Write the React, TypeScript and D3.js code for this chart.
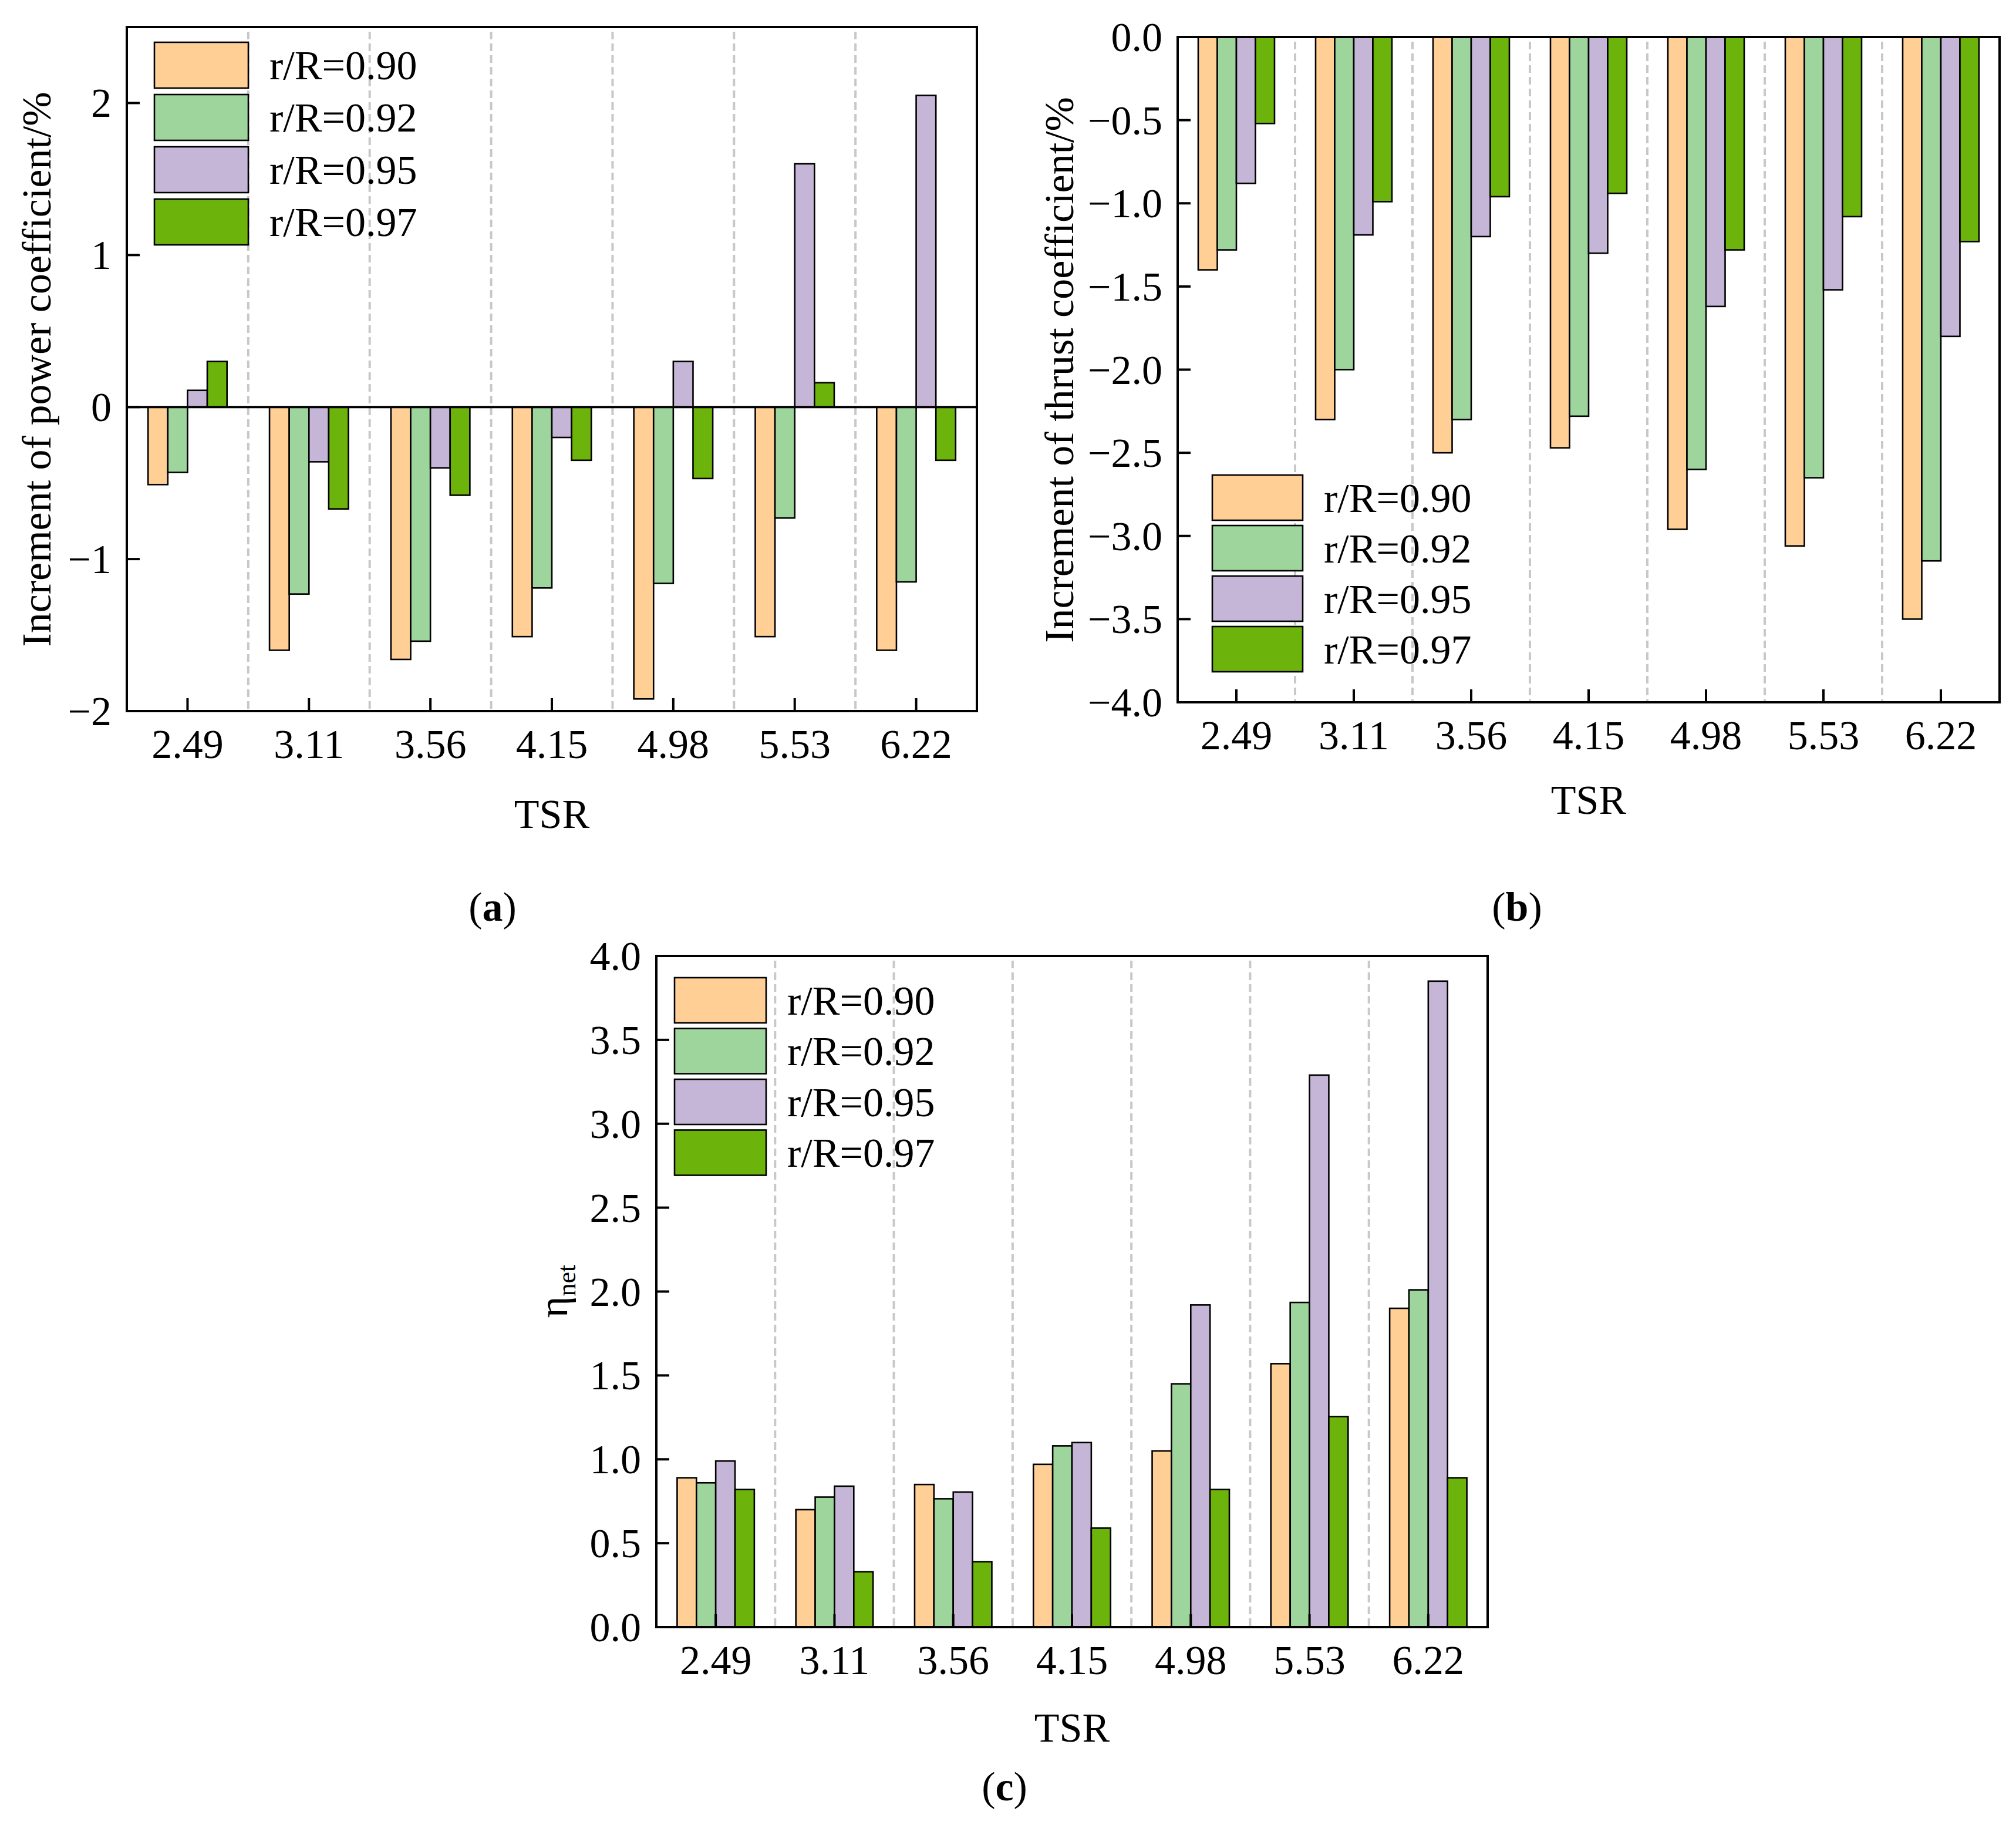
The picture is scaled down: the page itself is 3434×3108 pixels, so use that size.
import React from "react";
import * as d3 from "d3";

const tsr = ["2.49", "3.11", "3.56", "4.15", "4.98", "5.53", "6.22"];
const seriesNames = ["r/R=0.90", "r/R=0.92", "r/R=0.95", "r/R=0.97"];
const seriesColors = ["#ffcf96", "#9dd59d", "#c5b5d6", "#6cb30b"];

const power090 = [-0.51, -1.6, -1.66, -1.51, -1.92, -1.51, -1.6];
const power092 = [-0.43, -1.23, -1.54, -1.19, -1.16, -0.73, -1.15];
const power095 = [0.11, -0.36, -0.4, -0.2, 0.3, 1.6, 2.05];
const power097 = [0.3, -0.67, -0.58, -0.35, -0.47, 0.16, -0.35];

const thrust090 = [-1.4, -2.3, -2.5, -2.47, -2.96, -3.06, -3.5];
const thrust092 = [-1.28, -2.0, -2.3, -2.28, -2.6, -2.65, -3.15];
const thrust095 = [-0.88, -1.19, -1.2, -1.3, -1.62, -1.52, -1.8];
const thrust097 = [-0.52, -0.99, -0.96, -0.94, -1.28, -1.08, -1.23];

const eta090 = [0.89, 0.7, 0.85, 0.97, 1.05, 1.57, 1.9];
const eta092 = [0.86, 0.775, 0.765, 1.08, 1.45, 1.935, 2.01];
const eta095 = [0.99, 0.84, 0.805, 1.1, 1.92, 3.29, 3.85];
const eta097 = [0.82, 0.33, 0.39, 0.59, 0.82, 1.255, 0.89];

const powerTicks = [-2, -1, 0, 1, 2];
const thrustTicks = [-4, -3.5, -3, -2.5, -2, -1.5, -1, -0.5, 0];
const etaTicks = [0, 0.5, 1, 1.5, 2, 2.5, 3, 3.5, 4];

const FONT = "'Liberation Serif', 'Times New Roman', serif";
const FS = 70;

const fmtInt = (v: number) => (v < 0 ? "\u2212" + Math.abs(v) : String(v));
const fmt1 = (v: number) => (v < 0 ? "\u2212" + Math.abs(v).toFixed(1) : v.toFixed(1));

type PanelProps = {
  left: number; right: number; top: number; bottom: number;
  domain: [number, number];
  ticks: number[];
  fmt: (v: number) => string;
  series: number[][];
  base: number;
  zeroLine?: boolean;
  legend: { x: number; y: number; w: number; h: number; pitch: number };
  yTitle: React.ReactNode;
  tsrY: number;
};

function Panel(p: PanelProps) {
  const x = d3.scaleBand<string>().domain(tsr).range([p.left, p.right]).padding(0);
  const y = d3.scaleLinear().domain(p.domain).range([p.bottom, p.top]);
  const bw = x.bandwidth();
  const inner = d3.scaleBand<number>().domain([0, 1, 2, 3]).range([0, bw * 0.65]).padding(0);
  const off = (bw - bw * 0.65) / 2;
  return (
    <g>
      {tsr.slice(1).map((t, i) => (
        <line key={"sep" + i} x1={x(t)!} x2={x(t)!} y1={p.top + 8} y2={p.bottom}
          stroke="#c8c8c8" strokeWidth={4} strokeDasharray="13 7" />
      ))}
      {p.series.map((vals, si) =>
        vals.map((v, gi) => {
          const x0 = x(tsr[gi])! + off + inner(si)!;
          const ya = y(p.base), yb = y(v);
          return (
            <rect key={`b${si}-${gi}`} x={x0} width={inner.bandwidth()}
              y={Math.min(ya, yb)} height={Math.abs(yb - ya)}
              fill={seriesColors[si]} stroke="#000" strokeWidth={2.6} />
          );
        })
      )}
      {p.zeroLine && (
        <line x1={p.left} x2={p.right} y1={y(0)} y2={y(0)} stroke="#000" strokeWidth={4} />
      )}
      {/* y ticks */}
      {p.ticks.map((t) => (
        <g key={"yt" + t}>
          <line x1={p.left} x2={p.left + 22} y1={y(t)} y2={y(t)} stroke="#000" strokeWidth={4} />
          <text x={p.left - 26} y={y(t) + 24} textAnchor="end" fontFamily={FONT} fontSize={FS}>
            {p.fmt(t)}
          </text>
        </g>
      ))}
      {/* x ticks */}
      {tsr.map((t) => {
        const cx = x(t)! + bw / 2;
        return (
          <g key={"xt" + t}>
            <line x1={cx} x2={cx} y1={p.bottom} y2={p.bottom - 22} stroke="#000" strokeWidth={4} />
            <text x={cx} y={p.bottom + 80} textAnchor="middle" fontFamily={FONT} fontSize={FS}>
              {t}
            </text>
          </g>
        );
      })}
      <rect x={p.left} y={p.top} width={p.right - p.left} height={p.bottom - p.top}
        fill="none" stroke="#000" strokeWidth={4} />
      {/* legend */}
      {seriesNames.map((n, i) => {
        const by = p.legend.y + i * p.legend.pitch;
        return (
          <g key={"lg" + i}>
            <rect x={p.legend.x} y={by} width={p.legend.w} height={p.legend.h}
              fill={seriesColors[i]} stroke="#000" strokeWidth={2.6} />
            <text x={p.legend.x + p.legend.w + 36} y={by + p.legend.h / 2 + 24}
              fontFamily={FONT} fontSize={FS}>{n}</text>
          </g>
        );
      })}
      <text x={(p.left + p.right) / 2} y={p.tsrY} textAnchor="middle" fontFamily={FONT} fontSize={FS}>TSR</text>
      {p.yTitle}
    </g>
  );
}

export default function App() {
  return (
    <div style={{ position: "absolute", left: 0, top: 0 }}>
      <svg width={3434} height={3108} viewBox="0 0 3434 3108" style={{ display: "block", background: "#fff" }}>
        <rect x={0} y={0} width={3434} height={3108} fill="#fff" />
        <Panel left={216} right={1664} top={46} bottom={1211} domain={[-2, 2.5]}
          ticks={powerTicks} fmt={fmtInt}
          series={[power090, power092, power095, power097]} base={0} zeroLine
          legend={{ x: 263, y: 72, w: 160, h: 78, pitch: 89 }}
          tsrY={1410}
          yTitle={
            <text transform={`translate(86,629) rotate(-90)`} textAnchor="middle" fontFamily={FONT} fontSize={FS}>
              Increment of power coefficient/%
            </text>
          } />
        <Panel left={2006} right={3406} top={63} bottom={1196} domain={[-4, 0]}
          ticks={thrustTicks} fmt={fmt1}
          series={[thrust090, thrust092, thrust095, thrust097]} base={0}
          legend={{ x: 2065, y: 809, w: 154, h: 77, pitch: 86 }}
          tsrY={1386}
          yTitle={
            <text transform={`translate(1828,630) rotate(-90)`} textAnchor="middle" fontFamily={FONT} fontSize={FS}>
              Increment of thrust coefficient/%
            </text>
          } />
        <Panel left={1118} right={2534} top={1628} bottom={2771} domain={[0, 4]}
          ticks={etaTicks} fmt={fmt1}
          series={[eta090, eta092, eta095, eta097]} base={0}
          legend={{ x: 1149, y: 1665, w: 156, h: 77, pitch: 86.5 }}
          tsrY={2966}
          yTitle={
            <text transform={`translate(966,2199) rotate(-90)`} textAnchor="middle" fontFamily={FONT} fontSize={FS}>
              η<tspan fontSize={44} dy={14}>net</tspan>
            </text>
          } />
        <text x={839} y={1568} textAnchor="middle" fontFamily={FONT} fontSize={FS}>
          (<tspan fontWeight="bold">a</tspan>)
        </text>
        <text x={2584} y={1568} textAnchor="middle" fontFamily={FONT} fontSize={FS}>
          (<tspan fontWeight="bold">b</tspan>)
        </text>
        <text x={1711} y={3066} textAnchor="middle" fontFamily={FONT} fontSize={FS}>
          (<tspan fontWeight="bold">c</tspan>)
        </text>
      </svg>
    </div>
  );
}
